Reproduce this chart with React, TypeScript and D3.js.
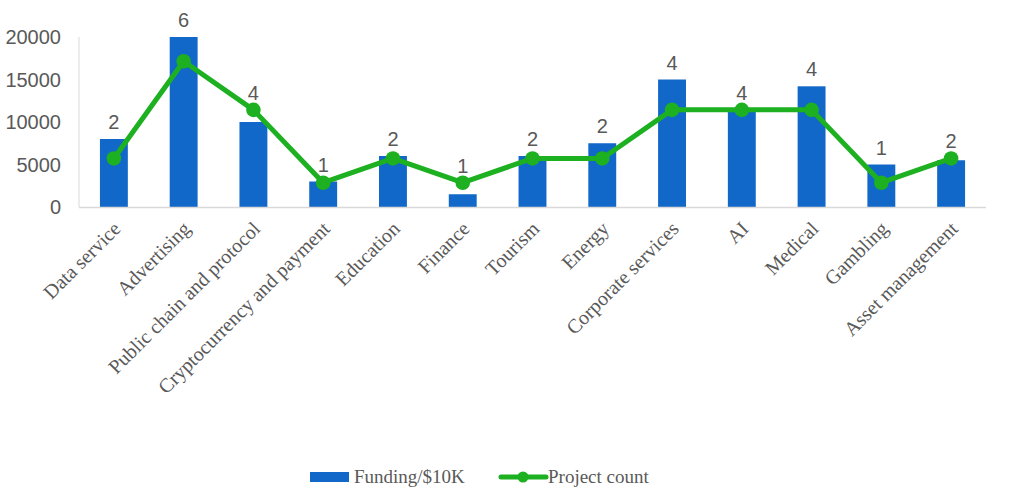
import React from "react";
import * as d3 from "d3";

const categories = [
  "Data service", "Advertising", "Public chain and protocol", "Cryptocurrency and payment",
  "Education", "Finance", "Tourism", "Energy", "Corporate services", "AI", "Medical",
  "Gambling", "Asset management",
];
const funding = [8000, 20000, 10000, 3000, 6000, 1500, 6000, 7500, 15000, 11200, 14200, 5000, 5500];
const projectCount = [2, 6, 4, 1, 2, 1, 2, 2, 4, 4, 4, 1, 2];
const yTicks = [0, 5000, 10000, 15000, 20000];

const W = 1018, H = 497;
const left = 79, right = 986, top = 37, bottom = 207;
const BLUE = "#1268C8";
const GREEN = "#1DB020";
const TEXT = "#595959";

export default function App() {
  const x = d3.scaleBand<string>().domain(categories).range([left, right]).paddingInner(0.6).paddingOuter(0.3);
  const xc = (c: string) => (x(c) as number) + x.bandwidth() / 2;
  const y = d3.scaleLinear().domain([0, 20000]).range([bottom, top]);
  const y2 = d3.scaleLinear().domain([0, 7]).range([bottom, top]);
  const line = d3.line<number>().x((_, i) => xc(categories[i])).y((d) => y2(d));

  return (
    <svg width={W} height={H} style={{ position: "absolute", left: 0, top: 0, background: "#fff" }}>
      <line x1={left} x2={left} y1={top} y2={bottom} stroke="#D9D9D9" strokeWidth={1} />
      {yTicks.map((t) => (
        <text key={t} x={61} y={y(t)} dy="0.35em" textAnchor="end" fontFamily="Liberation Sans, Arial" fontSize={20} fill={TEXT}>
          {t}
        </text>
      ))}
      {categories.map((c, i) => (
        <rect key={c} x={x(c)} y={y(funding[i])} width={x.bandwidth()} height={bottom - y(funding[i])} fill={BLUE} />
      ))}
      <line x1={left} x2={right} y1={bottom + 0.5} y2={bottom + 0.5} stroke="#D9D9D9" strokeWidth={1.5} />
      <path d={line(projectCount) || ""} fill="none" stroke={GREEN} strokeWidth={5} strokeLinejoin="round" />
      {categories.map((c, i) => (
        <circle key={c} cx={xc(c)} cy={y2(projectCount[i])} r={7.3} fill={GREEN} />
      ))}
      {categories.map((c, i) => (
        <text key={c} x={xc(c)} y={Math.min(y(funding[i]), y2(projectCount[i])) - 17} dy="0.35em" textAnchor="middle"
          fontFamily="Liberation Sans, Arial" fontSize={20} fill={TEXT}>
          {projectCount[i]}
        </text>
      ))}
      {categories.map((c) => (
        <text key={c} transform={`translate(${xc(c) + 8},${bottom + 23}) rotate(-45)`} textAnchor="end"
          fontFamily="Liberation Serif, Times New Roman" fontSize={20} fill={TEXT}>
          {c}
        </text>
      ))}
      <rect x={310} y={472} width={39} height={10} fill={BLUE} />
      <text x={354} y={483} fontFamily="Liberation Serif, Times New Roman" fontSize={19} fill={TEXT}>Funding/$10K</text>
      <line x1={501} x2={546} y1={477} y2={477} stroke={GREEN} strokeWidth={5} strokeLinecap="round" />
      <circle cx={523} cy={477} r={5.5} fill={GREEN} />
      <text x={548} y={483} fontFamily="Liberation Serif, Times New Roman" fontSize={19} fill={TEXT}>Project count</text>
    </svg>
  );
}
